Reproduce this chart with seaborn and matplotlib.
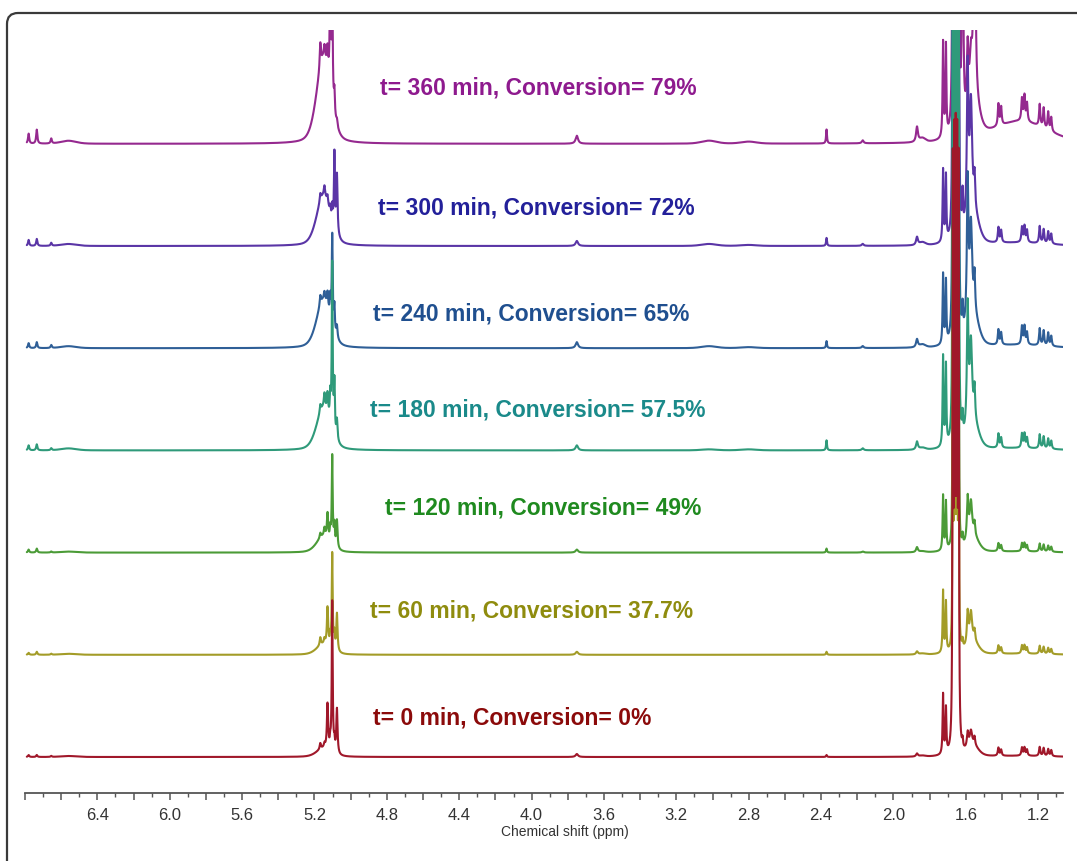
import numpy as np
import matplotlib
matplotlib.use("Agg")
import matplotlib.pyplot as plt
import seaborn as sns
from matplotlib.patches import FancyBboxPatch
from matplotlib.ticker import MultipleLocator, FuncFormatter

# ---- peak table shared by all spectra: chemical shift (ppm) and half width (ppm)
shift_ppm = [6.780, 6.735, 6.655, 6.560,
             5.150, 5.168, 5.145, 5.128, 5.113, 5.102, 5.090, 5.076,
             3.750, 3.020, 2.800, 2.370, 2.170, 1.870, 1.840,
             1.726, 1.710,
             1.640, 1.648, 1.656, 1.664, 1.672,
             1.618, 1.590, 1.572, 1.552, 1.560,
             1.420, 1.405, 1.290, 1.276, 1.262, 1.192, 1.170, 1.145, 1.128,
             1.300]
hwhm_ppm = [0.004, 0.004, 0.004, 0.050,
            0.045, 0.004, 0.004, 0.004, 0.003, 0.003, 0.003, 0.004,
            0.008, 0.050, 0.050, 0.003, 0.006, 0.006, 0.020,
            0.003, 0.003,
            0.002, 0.002, 0.002, 0.002, 0.002,
            0.003, 0.005, 0.008, 0.004, 0.035,
            0.004, 0.004, 0.004, 0.004, 0.004, 0.004, 0.004, 0.004, 0.004,
            0.180]

# ---- peak intensities (a.u.) of each spectrum, same order as shift_ppm
h_0min = [2, 2, 1, 1,
          8, 6, 4, 45, 8, 150, 10, 45,
          3, 0, 0, 2, 0, 3, 1,
          60, 45,
          560, 560, 560, 560, 560,
          8, 15, 15, 8, 10,
          8, 6, 8, 8, 6, 9, 8, 7, 6,
          1]
h_60min = [2, 3, 1, 1,
           10, 8, 5, 38, 10, 95, 15, 38,
           3, 0, 0, 3, 0, 3, 1,
           62, 50,
           300, 300, 300, 300, 300,
           8, 32, 30, 10, 12,
           8, 6, 8, 8, 6, 8, 7, 6, 5,
           1]
h_120min = [3, 4, 1, 1,
            16, 5, 8, 25, 12, 88, 20, 28,
            3, 0, 0, 4, 1, 5, 1,
            55, 48,
            300, 300, 300, 300, 300,
            10, 42, 35, 12, 15,
            8, 6, 8, 8, 6, 8, 7, 6, 5,
            1]
h_180min = [5, 6, 2, 2,
            42, 8, 14, 20, 25, 165, 50, 20,
            5, 1, 1, 10, 2, 8, 2,
            90, 80,
            600, 600, 600, 600, 600,
            20, 120, 80, 30, 25,
            14, 10, 14, 14, 10, 14, 12, 10, 8,
            2]
h_240min = [5, 6, 3, 2,
            48, 10, 8, 15, 20, 90, 25, 12,
            6, 2, 1, 7, 2, 8, 3,
            70, 62,
            600, 600, 600, 600, 600,
            25, 140, 90, 35, 30,
            15, 12, 18, 18, 12, 17, 15, 13, 10,
            3]
h_300min = [6, 7, 3, 2,
            50, 8, 10, 8, 8, 15, 75, 60,
            5, 2, 1, 8, 2, 8, 3,
            72, 65,
            600, 600, 600, 600, 600,
            35, 150, 110, 30, 30,
            15, 12, 15, 16, 12, 17, 14, 12, 10,
            3]
h_360min = [10, 14, 5, 3,
            85, 25, 12, 22, 130, 120, 22, 6,
            8, 3, 2, 14, 3, 15, 4,
            95, 90,
            700, 700, 700, 700, 700,
            400, 60, 40, 400, 40,
            22, 18, 22, 25, 18, 22, 20, 18, 14,
            22]

times_min = [0, 60, 120, 180, 240, 300, 360]
conversion = ["0%", "37.7%", "49%", "57.5%", "65%", "72%", "79%"]
intensities = [h_0min, h_60min, h_120min, h_180min, h_240min, h_300min, h_360min]

# ---- styling
line_colors = ["#a0182a", "#a39c28", "#4b9b37", "#2f9a7a", "#2f5f97", "#5a35a6", "#95298f"]
text_colors = ["#8b0a0a", "#8f8c0e", "#1f8a1f", "#1a8a8a", "#1f4f8f", "#23209a", "#8e1a8e"]
stack_step = 102.2
first_baseline = 36.0
# label anchor: (left edge in ppm, height above the trace baseline)
label_anchor = [(4.875, 39), (4.892, 44), (4.809, 45), (4.892, 40),
                (4.875, 34), (4.848, 38), (4.836, 56)]

sns.set_theme(style="white")
plt.rcParams["font.family"] = ["Liberation Sans", "DejaVu Sans"]

fig = plt.figure(figsize=(10.77, 8.61), dpi=100)
ax = fig.add_axes([25 / 1077, 68 / 861, 1038 / 1077, 763 / 861])

ppm = np.linspace(6.79, 1.063, 24000)
pos = np.asarray(shift_ppm)[:, None]
gam = np.asarray(hwhm_ppm)[:, None]
d = ppm[None, :] - pos
lorentz = gam ** 2 / (d ** 2 + gam ** 2)
gauss = np.exp(-np.log(2) * d ** 2 / gam ** 2)
# broad envelopes get a mostly Gaussian (pseudo-Voigt) profile, sharp lines stay Lorentzian
eta = np.where(gam > 0.015, 0.35, 1.0)
shape = eta * lorentz + (1 - eta) * gauss

# upper spectra first so lower traces sit on top
for i in reversed(range(len(times_min))):
    trace = np.asarray(intensities[i], dtype=float) @ shape
    base = first_baseline + stack_step * i
    sns.lineplot(x=ppm, y=trace + base, color=line_colors[i], lw=1.5,
                 estimator=None, sort=False, ax=ax)
    lx, ly = label_anchor[i]
    ax.text(lx, base + ly, f"t= {times_min[i]} min, Conversion= {conversion[i]}",
            color=text_colors[i], fontsize=16.5, fontweight="bold",
            ha="left", va="center", family=["Liberation Sans", "DejaVu Sans"])

ax.set_xlim(6.80, 1.063)
ax.set_ylim(0, 763)
ax.set_yticks([])
for s in ["top", "left", "right"]:
    ax.spines[s].set_visible(False)
ax.spines["bottom"].set_color("#555555")
ax.spines["bottom"].set_linewidth(1.3)


def shift_label(v, p):
    k = round(v / 0.4)
    if abs(k * 0.4 - v) < 1e-6 and 1.1 < v < 6.5:
        return f"{v:.1f}"
    return ""


ax.xaxis.set_major_locator(MultipleLocator(0.2))
ax.xaxis.set_minor_locator(MultipleLocator(0.1))
ax.xaxis.set_major_formatter(FuncFormatter(shift_label))
ax.tick_params(axis="x", which="major", direction="out", length=5, width=1.1,
               color="#555555", labelsize=12, labelcolor="#333333", pad=6, bottom=True)
ax.tick_params(axis="x", which="minor", direction="out", length=3, width=1.0,
               color="#555555", bottom=True)
ax.set_xlabel("Chemical shift (ppm)", fontsize=10, color="#333333")
ax.xaxis.set_label_coords(0.52, -0.042)
ax.grid(False)

frame = FancyBboxPatch((7, -60), 1200, 908,
                       boxstyle="round,pad=0,rounding_size=11",
                       transform=None, fill=False, edgecolor="#3a3a3a", lw=1.6,
                       clip_on=False)
fig.patches.append(frame)

fig.savefig("out.png", dpi=100)
